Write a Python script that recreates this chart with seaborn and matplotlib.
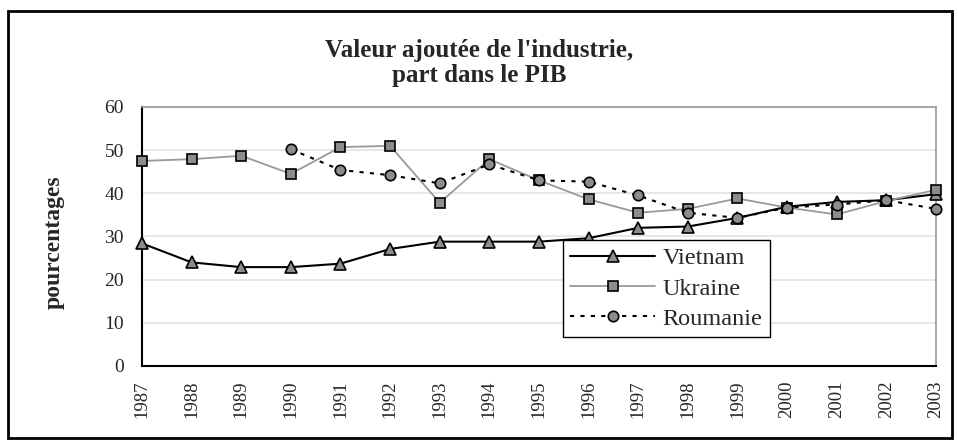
import numpy as np
import pandas as pd
import seaborn as sns
import matplotlib.pyplot as plt
from matplotlib.patches import Rectangle

# data
years = list(range(1987, 2004))
vietnam = [28.4, 24.0, 22.9, 22.9, 23.7, 27.1, 28.8, 28.8, 28.8, 29.6,
           32.0, 32.3, 34.3, 36.9, 38.0, 38.4, 39.8]
ukraine = [47.5, 47.9, 48.7, 44.5, 50.7, 51.0, 37.8, 47.9, 43.0, 38.6,
           35.5, 36.4, 38.8, 36.7, 35.1, 38.2, 40.8]
roumanie = [np.nan, np.nan, np.nan, 50.2, 45.4, 44.2, 42.3, 46.7, 43.0, 42.7,
            39.5, 35.5, 34.3, 36.7, 37.4, 38.4, 36.4]

title = "Valeur ajoutée de l'industrie,\npart dans le PIB"
ylabel = "pourcentages"

sns.set_style("white")
plt.rcParams["font.family"] = ["Liberation Serif", "DejaVu Serif"]

df = pd.DataFrame({"annee": years, "Vietnam": vietnam,
                   "Ukraine": ukraine, "Roumanie": roumanie})

fig = plt.figure(figsize=(9.58, 4.42), dpi=100)
ax = fig.add_axes([0.1482, 0.172, 0.8288, 0.586])

# series styles
styles = {
    "Vietnam": dict(color="black", lw=1.5, marker="^", ms=9, ls="-"),
    "Ukraine": dict(color="#999999", lw=1.3, marker="s", ms=7.5, ls="-"),
    "Roumanie": dict(color="black", lw=1.5, marker="o", ms=7.5, ls=(0, (2, 3))),
}

for name, st in styles.items():
    sns.lineplot(data=df, x="annee", y=name, ax=ax, label=name,
                 color=st["color"], linewidth=st["lw"], linestyle=st["ls"],
                 marker=st["marker"], markersize=st["ms"],
                 markerfacecolor="#8c8c8c", markeredgecolor="black",
                 markeredgewidth=1.2, clip_on=False, zorder=3)

ax.set_xlim(1987, 2003)
ax.set_ylim(0, 60)
ax.set_xticks(years)
ax.set_xticklabels([str(y) for y in years], rotation=90, fontsize=13.5)
ax.set_yticks(range(0, 61, 10))
ax.tick_params(axis="y", labelsize=14, pad=6)
ax.tick_params(direction="inout", length=14, width=1, color="black")
ax.set_xlabel("")
ax.set_ylabel(ylabel, fontsize=17, fontweight="bold")
ax.yaxis.set_label_coords(-0.097, 0.479)

ax.yaxis.grid(True, color="#e3e3e3", lw=1.2)
ax.set_axisbelow(True)
for side in ["top", "right"]:
    ax.spines[side].set_color("#999999")
    ax.spines[side].set_linewidth(1.2)
for side in ["left", "bottom"]:
    ax.spines[side].set_color("black")
    ax.spines[side].set_linewidth(1.5)

leg = ax.legend(loc="upper left", bbox_to_anchor=(0.530, 0.486),
                fontsize=17.5, frameon=True, fancybox=False, framealpha=1,
                borderpad=0.3, labelspacing=0.34, handlelength=3.5,
                handletextpad=0.3, borderaxespad=0)
leg.get_frame().set_edgecolor("black")
leg.get_frame().set_linewidth(1.0)
leg.set_zorder(5)

fig.text(0.5, 0.858, title, ha="center", va="center", fontsize=18,
         fontweight="bold", linespacing=1.12)

fig.patches.append(Rectangle((8 / 958, 4 / 442), 944 / 958, 427 / 442,
                             transform=fig.transFigure, fill=False,
                             edgecolor="black", lw=2))

fig.savefig("out.png", dpi=100)
